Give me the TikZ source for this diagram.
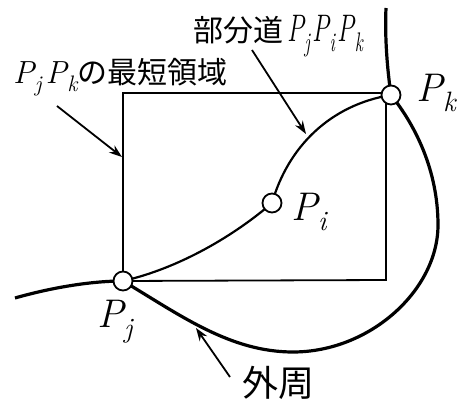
\documentclass[tikz,border=0pt]{standalone}
\usepackage{fontspec}
\newfontfamily\cjk{Noto Sans CJK JP}
\usetikzlibrary{arrows.meta}
\newcommand\Pt[1]{{\itshape P\kern0.5pt\raisebox{-0.25em}{\scalebox{0.7}{#1}}}}
\begin{document}
\begin{tikzpicture}[x=1pt,y=-1pt,
  outer/.style={line width=3.2pt},
  inner/.style={line width=2.2pt},
  rect/.style={line width=1.8pt},
  pt/.style={circle,draw,line width=1.8pt,fill=white,minimum size=19pt,inner sep=0pt},
  leader/.style={line width=1.8pt,-{Stealth[length=13pt,width=9pt]}},
  pl/.style={font=\fontsize{40}{40}\selectfont,inner sep=0pt}]
\useasboundingbox (0,0) rectangle (459,412);
\coordinate (L) at (15,298);
\coordinate (B) at (293,352);
\coordinate (R) at (438,225);
\coordinate (T) at (386,8);
\coordinate (Pjc) at (123,281);
\coordinate (Pic) at (272,203);
\coordinate (Pkc) at (391,95);
% rectangle
\draw[rect] (Pjc) -- (386,280) -- (386,93) -- (123,93) -- cycle;
% inner path
\draw[inner] (Pjc) .. controls (180,268) and (235,235) .. (Pic);
\draw[inner] (Pic) .. controls (288,147) and (330,105) .. (Pkc);
% outer
\draw[outer] (L) .. controls (50,288) and (90,281) .. (Pjc)
  .. controls (180,315) and (230,352) .. (B)
  .. controls (370,352) and (438,290) .. (R)
  .. controls (438,170) and (415,125) .. (Pkc)
  .. controls (386,60) and (385,30) .. (T);
% points
\node[pt] (Pj) at (Pjc) {};
\node[pt] (Pi) at (Pic) {};
\node[pt] (Pk) at (Pkc) {};
% labels
\node[pl,anchor=west] (lPi) at (291,212) {\Pt{i}};
\node[pl,anchor=west] (lPk) at (416,93) {\Pt{k}};
\node[pl,anchor=west] (lPj) at (97,322) {\Pt{j}};
\node[anchor=west,inner sep=0pt] (lreg) at (13,77) {\fontsize{32}{32}\selectfont\Pt{j}\hspace{4pt}\Pt{k}\cjk\fontsize{30}{30}\selectfont の最短領域};
\node[anchor=west,inner sep=0pt] (lpart) at (193,36) {\cjk\fontsize{30}{30}\selectfont 部分道\hspace{4pt}\normalfont\fontsize{32}{32}\selectfont\scalebox{0.8}[1.2]{\Pt{j}\hspace{3pt}\Pt{i}\hspace{3pt}\Pt{k}}};
\node[anchor=center,inner sep=0pt] (lout) at (278,383) {\cjk\fontsize{36}{36}\selectfont 外周};
% leaders
\coordinate (a1) at (57,106);
\coordinate (a1e) at (122,157);
\draw[leader] (a1) -- (a1e);
\coordinate (a2) at (252,50);
\coordinate (a2e) at (306,134);
\draw[leader] (a2) -- (a2e);
\coordinate (a3) at (230,377);
\coordinate (a3e) at (196,328);
\draw[leader] (a3) -- (a3e);
\end{tikzpicture}
\end{document}
